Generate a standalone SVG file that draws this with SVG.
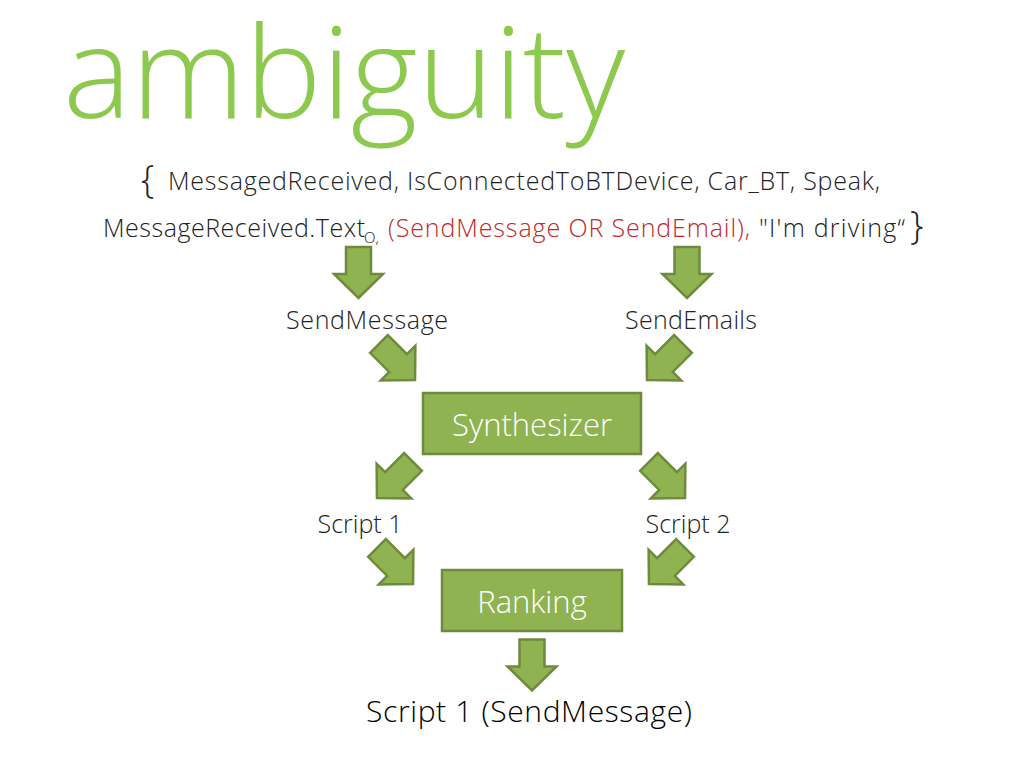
<svg xmlns="http://www.w3.org/2000/svg" xmlns:xlink="http://www.w3.org/1999/xlink" width="1024" height="768" viewBox="0 0 1024 768">
<style>
.t{font-family:"Open Sans","Noto Sans","Liberation Sans",sans-serif;font-weight:300;}
.body{font-size:25px;fill:#222;}
.red{fill:#c0282a;}
.lbl{font-size:25px;fill:#222;text-anchor:middle;}
.box{fill:#8fb350;stroke:#6e8b3d;stroke-width:2.5;}
.btxt{font-size:31px;fill:#fff;text-anchor:middle;}
.arr{fill:#8fb350;stroke:#6e8b3d;stroke-width:2.5;stroke-linejoin:miter;}
</style>
<defs>
<path id="a" class="arr" d="M-12.5,-25.5 L12.5,-25.5 L12.5,1.5 L24.5,1.5 L0,25.5 L-24.5,1.5 L-12.5,1.5 Z"/>
</defs>
<rect width="1024" height="768" fill="#fff"/>
<text class="t" x="63" y="118" font-size="128" fill="#8ec94f" textLength="562" lengthAdjust="spacingAndGlyphs">ambiguity</text>
<g id="set">
<text class="t" x="141" y="193" font-size="38" fill="#222">{</text>
<text class="t body" x="168" y="190" textLength="712">MessagedReceived, IsConnectedToBTDevice, Car_BT, Speak,</text>
<text class="t body" x="103" y="237" textLength="262">MessageReceived.Text</text>
<text class="t" x="364" y="243" font-size="15" fill="#222">O,</text>
<text class="t body red" x="388" y="237" textLength="362">(SendMessage OR SendEmail),</text>
<text class="t body" x="759" y="237" textLength="146">"I'm driving“</text>
<text class="t" x="910" y="239" font-size="38" fill="#222">}</text>
</g>
<g id="connectors">
<use xlink:href="#a" transform="translate(358.5,272.5)"/>
<use xlink:href="#a" transform="translate(687,272.5)"/>
<use xlink:href="#a" transform="translate(397,362) rotate(-45)"/>
<use xlink:href="#a" transform="translate(665,362) rotate(45)"/>
<use xlink:href="#a" transform="translate(395,480) rotate(45)"/>
<use xlink:href="#a" transform="translate(667,480) rotate(-45)"/>
<use xlink:href="#a" transform="translate(395,566) rotate(-45)"/>
<use xlink:href="#a" transform="translate(667,566) rotate(45)"/>
<use xlink:href="#a" transform="translate(532,665)"/>
</g>
<g id="sendmessage"><text class="t lbl" x="367" y="329" textLength="162">SendMessage</text></g>
<g id="sendemails"><text class="t lbl" x="691" y="329" textLength="132">SendEmails</text></g>
<g id="synthesizer">
<rect class="box" x="423" y="393" width="218" height="61"/>
<text class="t btxt" x="532" y="436">Synthesizer</text>
</g>
<g id="script1"><text class="t lbl" x="360" y="533">Script 1</text></g>
<g id="script2"><text class="t lbl" x="688" y="533">Script 2</text></g>
<g id="ranking">
<rect class="box" x="442" y="570" width="180" height="61"/>
<text class="t btxt" x="532" y="613">Ranking</text>
</g>
<g id="result"><text class="t" x="529" y="722" font-size="30" fill="#000" text-anchor="middle" textLength="326">Script 1 (SendMessage)</text></g>
</svg>
